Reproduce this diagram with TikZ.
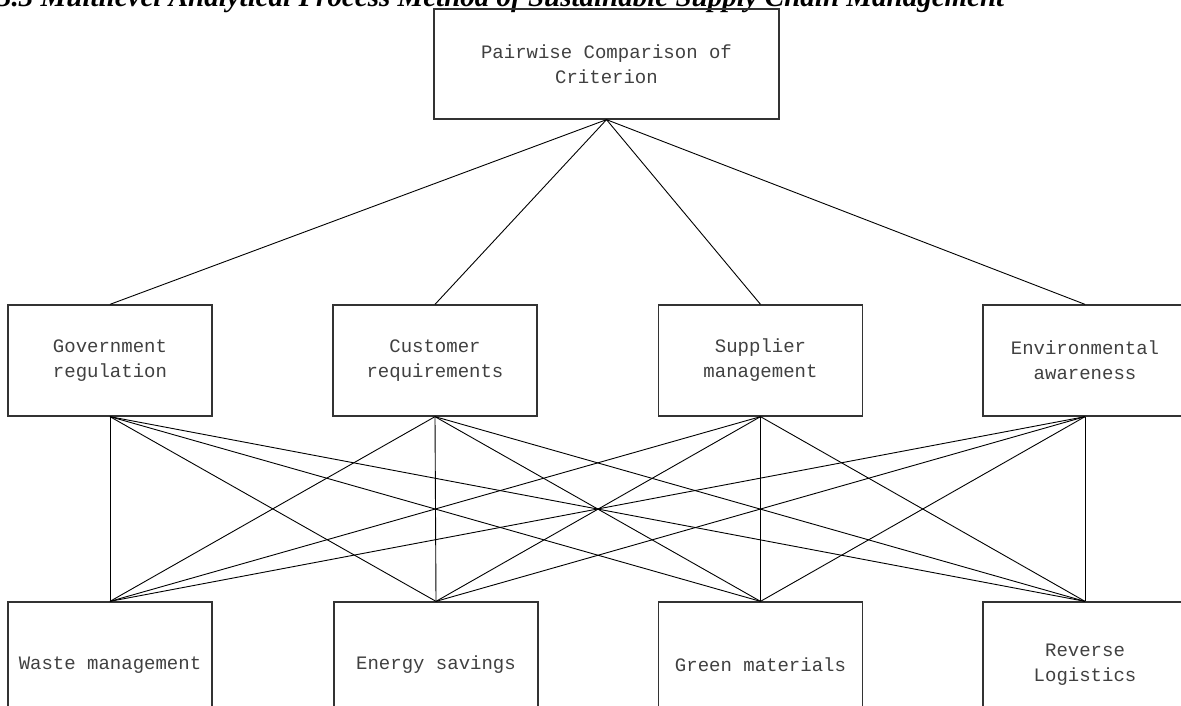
\documentclass[tikz,border=0pt]{standalone}
\usepackage{fontspec}
\setmainfont{Liberation Serif}
\newfontfamily\monof{Liberation Mono}
\begin{document}
\begin{tikzpicture}[x=1pt,y=-1pt,
  box/.style={draw=black!80, line width=1.3pt, minimum width=204pt, minimum height=111pt,
    inner sep=0pt, align=center, font=\monof\fontsize{19}{25}\selectfont, text=black!75},
  link/.style={line width=0.9pt, black}]
\useasboundingbox (0,0) rectangle (1181,705);
\clip (0,0) rectangle (1181,705);
\node[anchor=base west, inner sep=0pt, font=\bfseries\itshape\fontsize{29}{32}\selectfont] (title) at (-3,6)
  {3.3 Multilevel Analytical Process Method of Sustainable Supply Chain Management};
\node[box, minimum width=345pt, minimum height=110pt] (top) at (606.5,64) {Pairwise Comparison of\\Criterion};
\node[box] (gov) at (110,360.5) {Government\\regulation};
\node[box] (cus) at (435,360.5) {Customer\\requirements};
\node[box] (sup) at (760.5,360.5) {Supplier\\management};
\node[box] (env) at (1085,360.5) {Environmental\\awareness};
\node[box, minimum height=126pt] (was) at (110,665) {Waste management};
\node[box, minimum height=126pt] (ene) at (436,665) {Energy savings};
\node[box, minimum height=126pt] (gre) at (760.5,665) {Green materials};
\node[box, minimum height=126pt] (rev) at (1085,665) {Reverse\\Logistics};
\foreach \m in {gov,cus,sup,env}{
  \draw[link] (top.south) -- (\m.north);
  \foreach \b in {was,ene,gre,rev}{
    \draw[link] (\m.south) -- (\b.north);
  }
}
\end{tikzpicture}
\end{document}
